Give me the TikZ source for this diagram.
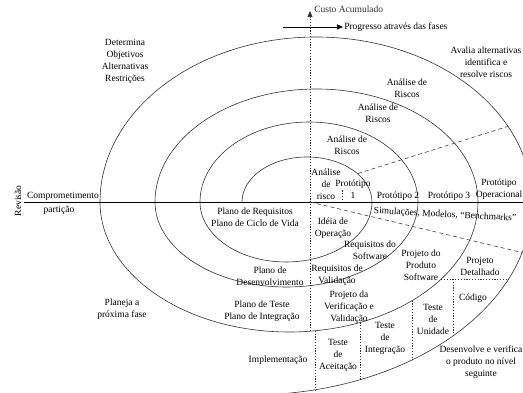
\documentclass[tikz,border=0pt]{standalone}
\usepackage{fontspec}
\setmainfont{Liberation Serif}
\usetikzlibrary{arrows.meta}

\begin{document}
\begin{tikzpicture}[x=1pt,y=1pt,
  lbl/.style={font=\fontsize{9.5}{12}\selectfont, align=center, inner sep=1pt},
  spiral/.style={line width=0.6pt, black!80},
  axisline/.style={line width=0.6pt},
  phase/.style={line width=0.6pt, dash pattern=on 4pt off 3pt, black!75},
  cell/.style={line width=0.6pt, dash pattern=on 1.2pt off 1.6pt, black!80}]
\useasboundingbox (-310,-191) rectangle (213,202);
\clip (-310,-191) rectangle (213,202);
% spiral, upper and lower half ellipses
\draw[spiral] (-68,0) arc[start angle=180,end angle=0,x radius=65pt,y radius=45pt]
  arc[start angle=0,end angle=-180,x radius=86pt,y radius=60pt]
  arc[start angle=180,end angle=0,x radius=109pt,y radius=80pt]
  arc[start angle=0,end angle=-180,x radius=131.5pt,y radius=85pt]
  arc[start angle=180,end angle=0,x radius=161.5pt,y radius=113pt]
  arc[start angle=0,end angle=-180,x radius=189pt,y radius=130pt]
  arc[start angle=180,end angle=0,x radius=216pt,y radius=165pt]
  arc[start angle=0,end angle=-84,x radius=282pt,y radius=193pt];
% axes
\draw[axisline] (-286,0) -- (213,0);
\draw[cell,-{Triangle[length=6pt,width=5pt]}] (0,-129.2) -- (0,191)
  node[lbl,right,xshift=3pt,yshift=2pt] (custo) {Custo Acumulado};
\draw[axisline,-{Triangle[length=6pt,width=5pt]}] (-27,175) -- (33,175)
  node[lbl,right] (prog) {Progresso através das fases};
% phase borders
\draw[phase] (48,28.5) -- (198,75.6);
\draw[phase] (0,0) -- (212,-50.5);
% cells of the last turn
\draw[cell] (32,2) -- (32,12);
\draw[cell] (5,-128.8) -- (5,-187.8);
\draw[cell] (50,-120.5) -- (50,-177.7);
\draw[cell] (102,-98.7) -- (102,-158);
\draw[cell] (131.3,-77) -- (198.6,-77);
\draw[cell] (143,-77) -- (143,-134);
% quadrant texts
\node[lbl] (determina) at (-185,141) {Determina\\Objetivos\\Alternativas\\Restrições};
\node[lbl] (avalia) at (176,140) {Avalia alternativas\\identifica e\\resolve riscos};
\node[lbl] (planeja) at (-188,-107) {Planeja a\\próxima fase};
\node[lbl] (desenv) at (171,-160) {Desenvolve e verifica\\o produto no nível\\seguinte};
\node[lbl,rotate=90] (revisao) at (-292,1) {Revisão};
\node[lbl,anchor=south east] (compr) at (-210,0.5) {Comprometimento};
\node[lbl] (particao) at (-251,-8) {partição};
% risk analysis
\node[lbl] (risco4) at (97,114) {Análise de\\Riscos};
\node[lbl] (risco3) at (68,89) {Análise de\\Riscos};
\node[lbl] (risco2) at (37,57) {Análise de\\Riscos};
\node[lbl] (risco1) at (16,18) {Análise\\de\\risco};
% prototypes
\node[lbl] (proto1) at (43,12.5) {Protótipo\\1};
\node[lbl,anchor=south] (proto2) at (88,0.5) {Protótipo 2};
\node[lbl,anchor=south] (proto3) at (139,0.5) {Protótipo 3};
\node[lbl] (protoop) at (189,13) {Protótipo\\Operacional};
\node[lbl,rotate=-3] (simul) at (135,-13) {Simulações, Modelos, ``Benchmarks''};
% plans and products
\node[lbl] (planoreq) at (-55,-15) {Plano de Requisitos\\Plano de Ciclo de Vida};
\node[lbl] (ideia) at (23,-26) {Idéia de\\Operação};
\node[lbl] (reqsoft) at (60,-48) {Requisitos do\\Software};
\node[lbl] (projprod) at (111,-63) {Projeto do\\Produto\\Software};
\node[lbl] (projdet) at (170,-64) {Projeto\\Detalhado};
\node[lbl] (planodes) at (-40,-74) {Plano de\\Desenvolvimento};
\node[lbl] (reqval) at (27,-73) {Requisitos de\\Validação};
\node[lbl] (planoteste) at (-48,-109) {Plano de Teste\\Plano de Integração};
\node[lbl] (projver) at (39,-105) {Projeto da\\Verificação e\\Validação};
\node[lbl] (codigo) at (163,-96) {Código};
% tests
\node[lbl] (impl) at (-32,-158) {Implementação};
\node[lbl] (aceit) at (28,-153) {Teste\\de\\Aceitação};
\node[lbl] (integ) at (75,-136) {Teste\\de\\Integração};
\node[lbl] (unid) at (123,-117) {Teste\\de\\Unidade};
\end{tikzpicture}
\end{document}
